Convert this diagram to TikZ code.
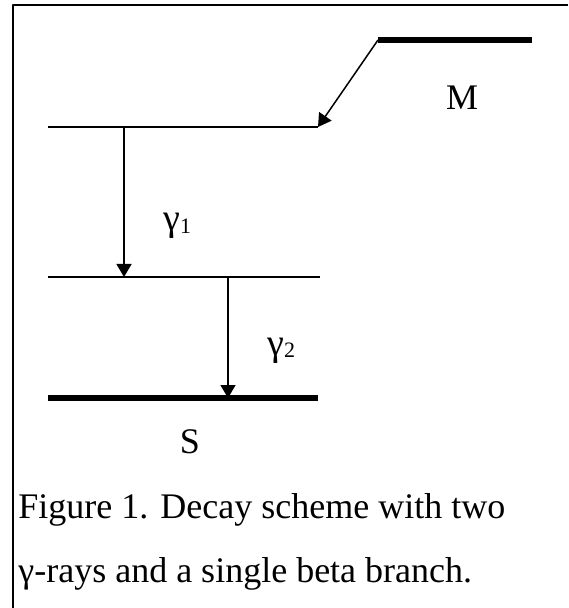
\documentclass[tikz,border=0pt]{standalone}
\usepackage{fontspec}
\setmainfont{Liberation Serif}
\usetikzlibrary{arrows.meta}
\tikzset{
  every picture/.style={line join=round, >={Triangle[length=6.5pt,width=7.5pt]}},
  level/.style={line width=1pt},
  bold level/.style={line width=2.6pt},
  trans/.style={line width=0.75pt,->},
  lbl/.style={font=\fontsize{18}{22}\selectfont, inner sep=0pt},
}
\newcommand{\gam}[1]{γ\raisebox{-1.2pt}{\fontsize{11}{11}\selectfont #1}}

\begin{document}
\begin{tikzpicture}[x=0.5pt,y=-0.5pt]
\useasboundingbox (0,0) rectangle (568,608);
\draw[line width=1pt](568,5)--(13,5)--(13,608);
% levels
\coordinate (Ml) at (378,40); \coordinate (Mr) at (532,40);
\coordinate (Al) at (48,127); \coordinate (Ar) at (318,127);
\coordinate (Bl) at (48,277); \coordinate (Br) at (320,277);
\coordinate (Sl) at (48,398); \coordinate (Sr) at (318,398);
\draw[bold level](Ml)--(Mr);
\draw[level](Al)--(Ar);
\draw[level](Bl)--(Br);
\draw[bold level](Sl)--(Sr);
% transitions
\coordinate (g1a) at (124,127); \coordinate (g1b) at (124,277);
\coordinate (g2a) at (228,277); \coordinate (g2b) at (228,398);
\draw[trans](Ml)--(Ar);
\draw[trans](g1a)--(g1b);
\draw[trans](g2a)--(g2b);
\node[lbl,anchor=base] (M) at (462,110) {M};
\node[lbl,anchor=base] (S) at (190,453) {S};
\node[lbl,anchor=base west,font=\fontsize{19}{22}\selectfont] (g1) at (163,231) {\gam{1}};
\node[lbl,anchor=base west,font=\fontsize{19}{22}\selectfont] (g2) at (267,355) {\gam{2}};
\node[lbl,anchor=base west] (cap1) at (18,518) {Figure 1. Decay scheme with two};
\node[lbl,anchor=base west] (cap2) at (18,582) {γ-rays and a single beta branch.};
\end{tikzpicture}
\end{document}
